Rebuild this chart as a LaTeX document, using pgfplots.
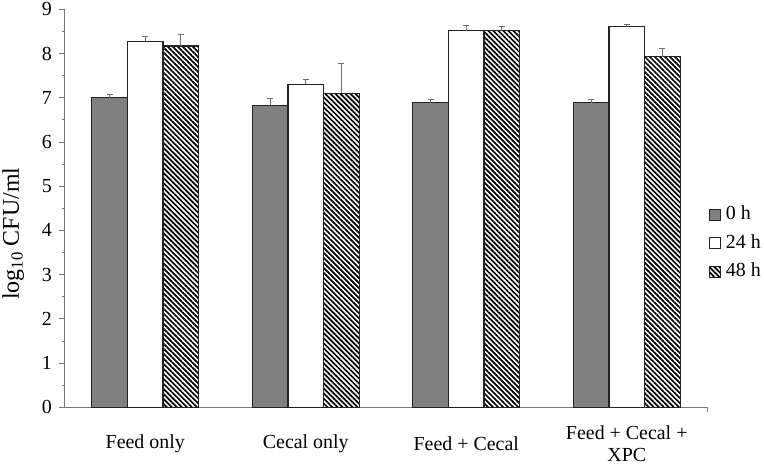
\documentclass[border=0pt]{standalone}
\usepackage{fontspec}
\setmainfont{Liberation Serif}
\usepackage{pgfplots}
\pgfplotsset{compat=1.18}
\usetikzlibrary{patterns.meta}

\definecolor{bargray}{RGB}{128,128,128}
\definecolor{edge}{RGB}{35,35,35}
\definecolor{axgray}{RGB}{120,120,120}
\definecolor{errgray}{RGB}{110,110,110}

\begin{document}
\begin{tikzpicture}
\begin{axis}[
    name=ax,
    scale only axis,
    width=642bp, height=398bp,
    ymin=0, ymax=9,
    xmin=-0.5, xmax=3.5,
    ytick={0,1,...,9},
    minor y tick num=1,
    xtick={0,1,2,3},
    xticklabels={Feed only, Cecal only, Feed + Cecal, {Feed + Cecal +\\XPC}},
    xtick style={draw=none},
    extra x ticks={3.5},
    extra x tick labels={},
    extra x tick style={xtick style={draw=axgray, line width=0.8bp}, major tick length=5bp},
    axis lines=left,
    axis line style={-, draw=axgray, line width=1bp},
    ytick style={draw=axgray, line width=0.8bp},
    tick align=outside,
    major tick length=6bp,
    minor tick length=3bp,
    /pgf/number format/assume math mode=true,
    yticklabel style={font=\fontsize{20}{22}\selectfont, anchor=east, inner sep=0pt},
    yticklabel shift=7bp,
    xticklabel style={font=\fontsize{20}{22}\selectfont, align=center, anchor=center, yshift=-30bp},
    ylabel={log\textsubscript{10} CFU/ml},
    ylabel style={font=\fontsize{24}{26}\selectfont, inner sep=0pt, at={(axis description cs:-0.0717,0.436)}, anchor=base},
    ybar=0pt,
    bar width=35.6bp,
    legend cell align=left,
    legend image code/.code={\draw[#1, line width=0.8bp] (0bp,-5.5bp) rectangle (11bp,5.5bp); \path (14bp,0bp);},
    legend style={at={(axis description cs:1.0035,0.412)}, anchor=west, draw=none, fill=none,
        inner sep=0pt, row sep=7.5bp,
        font=\fontsize{20}{22}\selectfont,
        nodes={inner sep=1.5bp, text height=14bp, text depth=4bp}},
    error bars/y dir=plus,
    error bars/y explicit,
    error bars/error bar style={draw=errgray, line width=1bp},
    error bars/error mark options={draw=errgray, line width=1bp, mark size=3bp, rotate=90},
]
\addplot[fill=bargray, draw=edge, line width=1.2bp] coordinates {
    (0,7.00) +- (0,0.07)
    (1,6.83) +- (0,0.15)
    (2,6.89) +- (0,0.07)
    (3,6.89) +- (0,0.07)
};
\addplot[fill=white, draw=edge, line width=1.2bp] coordinates {
    (0,8.28) +- (0,0.10)
    (1,7.30) +- (0,0.12)
    (2,8.52) +- (0,0.12)
    (3,8.61) +- (0,0.04)
};
\addplot[draw=edge, line width=1.2bp, pattern={Lines[angle=-45, distance=3.55bp, line width=1.7bp]}, pattern color=black] coordinates {
    (0,8.17) +- (0,0.25)
    (1,7.10) +- (0,0.68)
    (2,8.52) +- (0,0.10)
    (3,7.93) +- (0,0.18)
};
\legend{0 h, 24 h, 48 h}
\coordinate (bl) at (rel axis cs:0,0);
\coordinate (tr) at (rel axis cs:1,1);
\end{axis}
\pgfresetboundingbox
\path[use as bounding box] ([xshift=-65bp,yshift=-59bp]bl) rectangle ([xshift=57bp,yshift=9.3bp]tr);
\end{tikzpicture}
\end{document}
